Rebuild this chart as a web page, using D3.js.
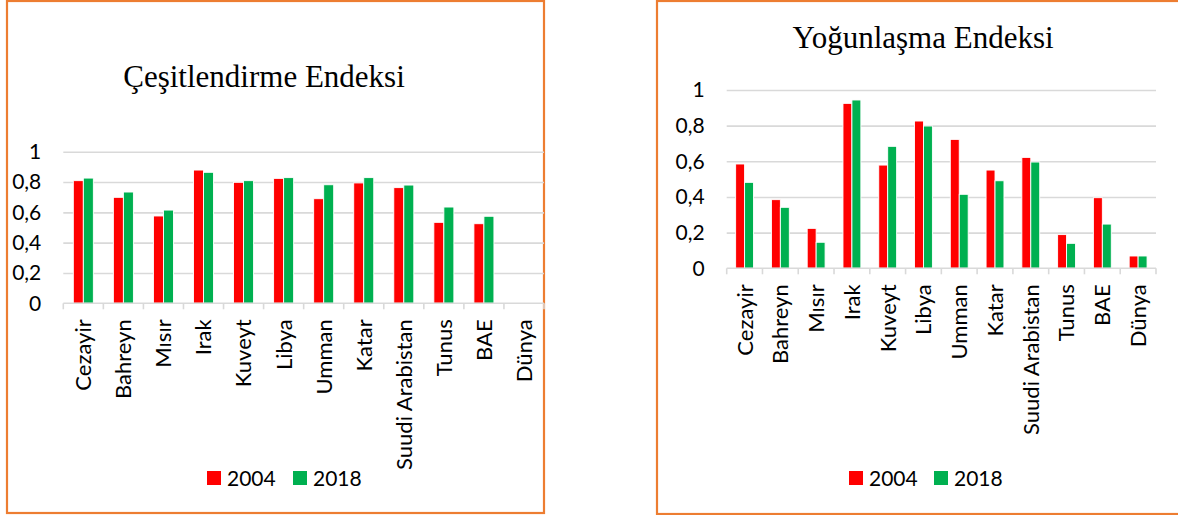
<!DOCTYPE html>
<html>
<head>
<meta charset="utf-8">
<script src="https://cdnjs.cloudflare.com/ajax/libs/d3/7.8.5/d3.min.js"></script>
<style>
  body { margin: 0; background: #fff; }
  svg { display: block; }
  .tick text { font-family: Lato, "Open Sans", sans-serif; }
</style>
</head>
<body>
<svg id="chart" width="1178" height="515"></svg>
<script>
// data
const categories = ["Cezayir", "Bahreyn", "Mısır", "Irak", "Kuveyt", "Libya", "Umman", "Katar", "Suudi Arabistan", "Tunus", "BAE", "Dünya"];
const years = ["2004", "2018"];
const cesit2004 = [0.809, 0.699, 0.576, 0.879, 0.798, 0.824, 0.690, 0.794, 0.763, 0.534, 0.525, null];
const cesit2018 = [0.826, 0.734, 0.615, 0.864, 0.809, 0.829, 0.782, 0.829, 0.780, 0.635, 0.574, null];
const yogun2004 = [0.585, 0.385, 0.224, 0.925, 0.579, 0.826, 0.723, 0.551, 0.622, 0.189, 0.396, 0.069];
const yogun2018 = [0.482, 0.342, 0.146, 0.944, 0.684, 0.798, 0.415, 0.491, 0.596, 0.140, 0.248, 0.069];
const yTicks = [0, 0.2, 0.4, 0.6, 0.8, 1];

const colors = { "2004": "#FF0000", "2018": "#00B050" };
const svg = d3.select("#chart");

// orange frames round the two charts
svg.append("rect").attr("x", 7).attr("y", 1).attr("width", 537).attr("height", 512)
   .attr("fill", "none").attr("stroke", "#ED7D31").attr("stroke-width", 2.2);
svg.append("rect").attr("x", 657).attr("y", 1).attr("width", 540).attr("height", 513)
   .attr("fill", "none").attr("stroke", "#ED7D31").attr("stroke-width", 2.2);

drawChart({
    title: "Çeşitlendirme Endeksi", titleX: 264, titleY: 87,
    left: 63.3, right: 544, top: 151.7, bottom: 303.3,
    series: [cesit2004, cesit2018],
    legendX: [207, 293], legendY: 471
});

drawChart({
    title: "Yoğunlaşma Endeksi", titleX: 923, titleY: 48,
    left: 726.7, right: 1156, top: 90, bottom: 268.3,
    series: [yogun2004, yogun2018],
    legendX: [849, 934], legendY: 471
});

function drawChart(o) {
    let g = svg.append("g");

    let x0 = d3.scaleBand().domain(categories).range([o.left, o.right]);
    let bw = x0.bandwidth();
    let x1 = d3.scaleBand().domain(years).range([bw * 0.25, bw * 0.75]);
    let y = d3.scaleLinear().domain([0, 1]).range([o.bottom, o.top]);

    // title
    g.append("text")
        .attr("x", o.titleX).attr("y", o.titleY)
        .attr("text-anchor", "middle")
        .attr("font-family", "'Liberation Serif', 'Times New Roman', serif")
        .attr("font-size", 31).attr("fill", "#000")
        .text(o.title);

    // gridlines
    let grid = g.append("g")
        .attr("transform", "translate(" + o.left + ",0)")
        .call(d3.axisLeft(y).tickValues(yTicks.filter(d => d > 0)).tickSize(-(o.right - o.left)).tickFormat(""));
    grid.select(".domain").remove();
    grid.selectAll("line").attr("stroke", "#D9D9D9").attr("stroke-width", 1.6);

    // y labels
    let ya = g.append("g")
        .attr("transform", "translate(" + (o.left - 22) + ",0)")
        .call(d3.axisLeft(y).tickValues(yTicks).tickSize(0).tickPadding(0)
            .tickFormat(d => String(d).replace(".", ",")));
    ya.select(".domain").remove();
    ya.selectAll("text").attr("font-size", 21).attr("fill", "#000");

    // bars
    let rows = categories.map((c, i) => ({ c: c, vals: years.map((yr, k) => ({ yr: yr, v: o.series[k][i] })) }));
    g.append("g").selectAll("g")
        .data(rows)
        .join("g")
        .attr("transform", d => "translate(" + x0(d.c) + ",0)")
        .selectAll("rect")
        .data(d => d.vals.filter(v => v.v != null))
        .join("rect")
        .attr("x", d => x1(d.yr))
        .attr("width", x1.bandwidth())
        .attr("y", d => y(d.v))
        .attr("height", d => y(0) - y(d.v))
        .attr("fill", d => colors[d.yr])
        .attr("stroke", "#fff").attr("stroke-width", 0.9);

    // x axis line + boundary ticks
    g.append("line")
        .attr("x1", o.left).attr("x2", o.right)
        .attr("y1", y(0)).attr("y2", y(0))
        .attr("stroke", "#D9D9D9").attr("stroke-width", 1.6);
    let edges = categories.map(c => x0(c)).concat([o.right]);
    g.append("g").selectAll("line")
        .data(edges)
        .join("line")
        .attr("x1", d => d).attr("x2", d => d)
        .attr("y1", y(0)).attr("y2", y(0) + 6)
        .attr("stroke", "#D9D9D9").attr("stroke-width", 1.6);

    // x labels, rotated
    g.append("g").selectAll("text")
        .data(categories)
        .join("text")
        .attr("transform", d => "translate(" + (x0(d) + bw / 2) + "," + (y(0) + 16) + ") rotate(-90)")
        .attr("text-anchor", "end")
        .attr("dy", "0.36em")
        .attr("font-family", "Lato, 'Open Sans', sans-serif")
        .attr("font-size", 22).attr("fill", "#000")
        .text(d => d);

    // legend
    let lg = g.append("g");
    years.forEach((yr, k) => {
        lg.append("rect")
            .attr("x", o.legendX[k]).attr("y", o.legendY)
            .attr("width", 14).attr("height", 14)
            .attr("fill", colors[yr]);
        lg.append("text")
            .attr("x", o.legendX[k] + 20).attr("y", o.legendY + 15)
            .attr("font-family", "Lato, 'Open Sans', sans-serif")
            .attr("font-size", 21).attr("fill", "#000")
            .text(yr);
    });
}
</script>
</body>
</html>
